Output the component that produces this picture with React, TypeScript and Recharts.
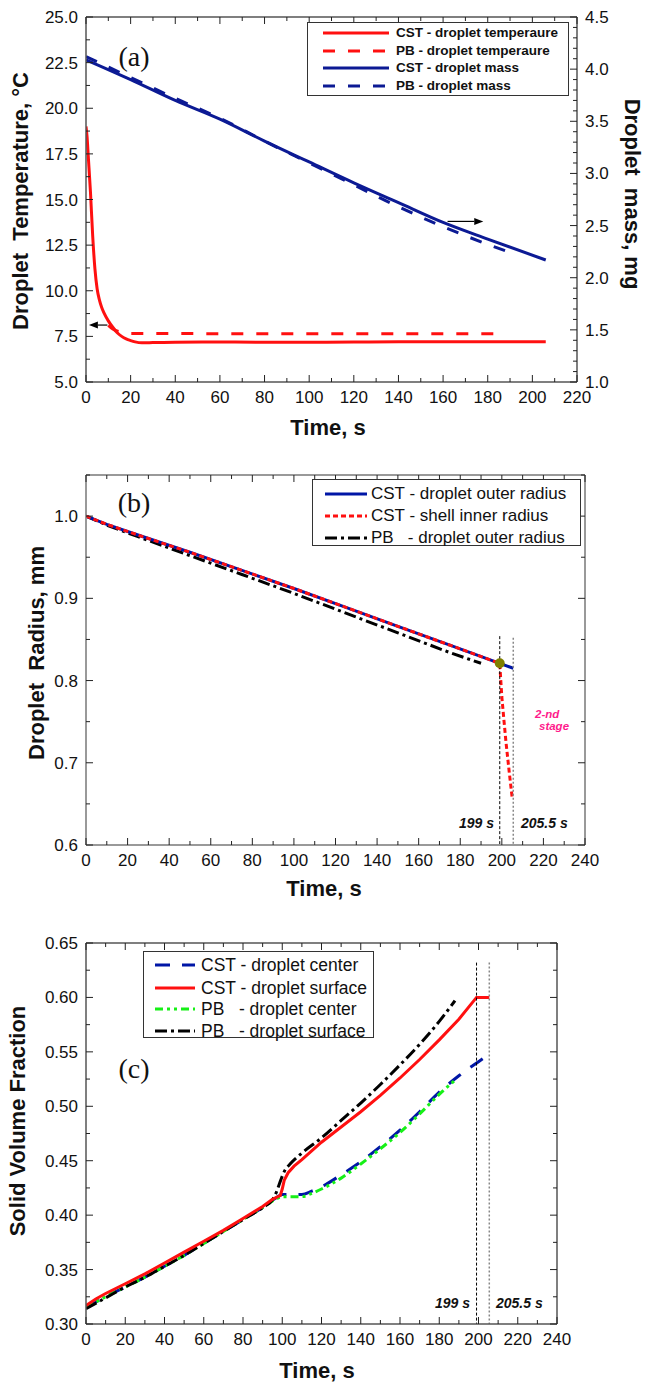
import React from "react";
import { LineChart, Line, XAxis, YAxis, ReferenceLine, ReferenceDot } from "recharts";

// ---------- panel (a): droplet temperature / mass ----------
const tempCstT = [0, 0.5, 1, 2, 3, 4, 5, 6, 7, 8, 10, 12, 14, 16, 18, 20, 22, 25, 30, 40, 60, 80, 100, 120, 140, 160, 180, 200, 206];
const tempCstV = [19.0, 18.4, 17.4, 15.4, 13.0, 11.2, 10.1, 9.5, 9.1, 8.8, 8.35, 8.0, 7.7, 7.5, 7.36, 7.27, 7.2, 7.15, 7.16, 7.18, 7.19, 7.18, 7.18, 7.19, 7.2, 7.2, 7.2, 7.2, 7.2];
const tempPbT = [10, 12, 15, 20, 60, 120, 188];
const tempPbV = [8.1, 7.9, 7.75, 7.66, 7.65, 7.65, 7.65];
const massCstT = [0, 20, 40, 60, 80, 100, 120, 140, 160, 180, 206];
const massCstV = [4.09, 3.9, 3.7, 3.52, 3.31, 3.11, 2.91, 2.72, 2.53, 2.37, 2.17];
const massPbT = [0, 20, 40, 60, 80, 100, 120, 140, 160, 180, 189];
const massPbV = [4.12, 3.92, 3.72, 3.53, 3.31, 3.1, 2.89, 2.68, 2.49, 2.32, 2.25];
const legendA = ["CST - droplet temperaure", "PB - droplet temperaure", "CST - droplet mass", "PB - droplet mass"];

// ---------- panel (b): droplet radius ----------
const radCstT = [0, 10, 25, 50, 75, 100, 125, 150, 175, 199, 205.5];
const radCstV = [1.0, 0.99, 0.977, 0.956, 0.934, 0.912, 0.889, 0.866, 0.843, 0.821, 0.815];
const shellT = [0, 10, 25, 50, 75, 100, 125, 150, 175, 199, 199.5, 200, 201, 202, 203.5, 205];
const shellV = [1.0, 0.99, 0.977, 0.956, 0.934, 0.912, 0.889, 0.866, 0.843, 0.821, 0.8, 0.78, 0.752, 0.725, 0.69, 0.657];
const radPbT = [0, 10, 25, 50, 75, 100, 125, 150, 175, 190];
const radPbV = [1.0, 0.989, 0.975, 0.952, 0.929, 0.906, 0.882, 0.858, 0.834, 0.821];
const legendB = ["CST - droplet outer radius", "CST - shell inner radius", "PB   - droplet outer radius"];

// ---------- panel (c): solid volume fraction ----------
const cenCstT = [0, 10, 20, 30, 40, 50, 60, 70, 80, 90, 97, 100, 105, 110, 115, 120, 130, 140, 150, 160, 170, 180, 190, 200, 204];
const cenCstV = [0.315, 0.325, 0.334, 0.343, 0.353, 0.363, 0.374, 0.385, 0.396, 0.407, 0.416, 0.419, 0.419, 0.419, 0.422, 0.426, 0.437, 0.449, 0.463, 0.478, 0.495, 0.513, 0.528, 0.541, 0.546];
const surCstT = [0, 5, 10, 20, 30, 40, 50, 60, 70, 80, 90, 95, 99, 100, 101, 103, 106, 110, 120, 130, 140, 150, 160, 170, 180, 190, 199, 205.5];
const surCstV = [0.317, 0.323, 0.328, 0.337, 0.346, 0.356, 0.366, 0.376, 0.386, 0.397, 0.408, 0.4145, 0.418, 0.424, 0.432, 0.439, 0.445, 0.451, 0.467, 0.481, 0.495, 0.51, 0.526, 0.543, 0.561, 0.58, 0.6, 0.6];
const cenPbT = [0, 10, 20, 30, 40, 50, 60, 70, 80, 90, 97, 100, 105, 110, 115, 120, 130, 140, 150, 160, 170, 180, 188];
const cenPbV = [0.315, 0.325, 0.334, 0.343, 0.353, 0.363, 0.374, 0.385, 0.396, 0.407, 0.415, 0.417, 0.417, 0.417, 0.42, 0.424, 0.434, 0.447, 0.461, 0.476, 0.493, 0.511, 0.524];
const surPbT = [0, 10, 20, 30, 40, 50, 60, 70, 80, 90, 95, 97, 99, 101, 104, 110, 120, 130, 140, 150, 160, 170, 180, 188];
const surPbV = [0.314, 0.324, 0.334, 0.343, 0.353, 0.363, 0.374, 0.385, 0.396, 0.407, 0.414, 0.421, 0.431, 0.44, 0.447, 0.457, 0.471, 0.487, 0.503, 0.52, 0.538, 0.557, 0.578, 0.597];
const legendC = ["CST - droplet center", "CST - droplet surface", "PB   - droplet center", "PB   - droplet surface"];

const FONT = '"Liberation Sans", Arial, Helvetica, sans-serif';
const RED = "#ff1010";
const NAVY = "#0c1a94";
const BLUE = "#0016a6";
const GREEN = "#16f016";
const FRAME = "#555";

function range(a: number, b: number, step: number) {
  const out: number[] = [];
  const n = Math.round((b - a) / step);
  for (let i = 0; i <= n; i++) out.push(Math.round((a + i * step) * 10000) / 10000);
  return out;
}

const zip = (t: number[], v: number[]) => t.map((x, i) => ({ t: x, v: v[i] }));

type Side = "bottom" | "top" | "left" | "right";

function axisTick(side: Side, major: number, fmt?: (v: number) => string) {
  return (props: any) => {
    const { x, y, payload } = props;
    const v = Number(payload.value);
    const isMajor = Math.abs(v / major - Math.round(v / major)) < 1e-6;
    const len = isMajor ? 7 : 4;
    const lbl = fmt && isMajor ? fmt(v) : null;
    const txt = { fontFamily: FONT, fontSize: 17, fill: "#111" };
    if (side === "bottom")
      return (
        <g>
          <line x1={x} y1={y} x2={x} y2={y - len} stroke="#222" />
          {lbl && <text x={x} y={y + 21} textAnchor="middle" {...txt}>{lbl}</text>}
        </g>
      );
    if (side === "top") return <line x1={x} y1={y} x2={x} y2={y + len} stroke="#222" />;
    if (side === "left")
      return (
        <g>
          <line x1={x} y1={y} x2={x + len} y2={y} stroke="#222" />
          {lbl && <text x={x - 8} y={y + 6} textAnchor="end" {...txt}>{lbl}</text>}
        </g>
      );
    return (
      <g>
        <line x1={x} y1={y} x2={x - len} y2={y} stroke="#222" />
        {lbl && <text x={x + 8} y={y + 6} textAnchor="start" {...txt}>{lbl}</text>}
      </g>
    );
  };
}

function Arrow(props: any) {
  const { x1, y1, x2, y2 } = props;
  const a = Math.atan2(y2 - y1, x2 - x1);
  const bx = x2 - 9 * Math.cos(a);
  const by = y2 - 9 * Math.sin(a);
  const px = -Math.sin(a) * 3.5;
  const py = Math.cos(a) * 3.5;
  return (
    <g>
      <line x1={x1} y1={y1} x2={bx} y2={by} stroke="#000" strokeWidth={1.2} />
      <polygon points={`${x2},${y2} ${bx + px},${by + py} ${bx - px},${by - py}`} fill="#000" />
    </g>
  );
}

type Row = { name: string; color: string; dash?: string };

function BoxLegend(p: { x: number; y: number; w: number; h: number; rows: Row[]; rowY: number[]; s0: number; s1: number; tx: number; fs: number; bold?: boolean }) {
  return (
    <div style={{ position: "absolute", left: p.x, top: p.y, width: p.w, height: p.h, border: "1px solid #333", background: "#fff", boxSizing: "border-box" }}>
      {p.rows.map((r, i) => (
        <div key={r.name} style={{ position: "absolute", left: 0, top: p.rowY[i] - p.y - 12, height: 24, width: "100%" }}>
          <svg style={{ position: "absolute", left: p.s0 - p.x, top: 0 }} width={p.s1 - p.s0} height={24}>
            <line x1={0} y1={12} x2={p.s1 - p.s0} y2={12} stroke={r.color} strokeWidth={3} strokeDasharray={r.dash} />
          </svg>
          <span style={{ position: "absolute", left: p.tx - p.x, top: 0, lineHeight: "24px", fontSize: p.fs, fontWeight: p.bold ? 700 : 400, whiteSpace: "pre", fontFamily: FONT, color: "#111" }}>
            {r.name}
          </span>
        </div>
      ))}
    </div>
  );
}

const lineBase = { type: "monotone" as const, dataKey: "v", dot: false, isAnimationActive: false, strokeWidth: 3 };
const axisLine = { stroke: FRAME, strokeWidth: 1.5 };
const axisCommon = { type: "number" as const, interval: 0 as const, tickSize: 0, tickMargin: 0, tickLine: false, axisLine, allowDataOverflow: true };

export default function App() {
  const xTicks220 = range(0, 220, 10);
  const xTicks240 = range(0, 240, 10);
  const f1 = (v: number) => v.toFixed(1);
  const f2 = (v: number) => v.toFixed(2);
  const f0 = (v: number) => String(v);
  const titleStyle = { fontFamily: FONT, fontSize: 22, fontWeight: 700, fill: "#111", whiteSpace: "pre" as const };
  const serif = { fontFamily: '"Liberation Serif", "Times New Roman", serif', fontSize: 28, fill: "#111" };
  const stamp = { fontFamily: FONT, fontSize: 14, fontWeight: 700, fontStyle: "italic" as const, fill: "#111" };
  const grayAxis = { stroke: "#777", strokeWidth: 1.5 };

  return (
    <div style={{ position: "absolute", left: 0, top: 0, width: 646, height: 1383, background: "#fff" }}>
      {/* (a) */}
      <div style={{ position: "absolute", left: 0, top: 0 }}>
        <LineChart width={646} height={460} margin={{ top: 16, right: 0, bottom: 0, left: 0 }}>
          <XAxis xAxisId="x" dataKey="t" domain={[0, 220]} ticks={xTicks220} height={78} tick={axisTick("bottom", 20, f0)} {...axisCommon} />
          <XAxis xAxisId="xt" orientation="top" dataKey="t" domain={[0, 220]} ticks={xTicks220} height={1} tick={axisTick("top", 20)} {...axisCommon} />
          <YAxis yAxisId="T" domain={[5, 25]} ticks={range(5, 25, 1.25)} width={86} tick={axisTick("left", 2.5, f1)} {...axisCommon} />
          <YAxis yAxisId="m" orientation="right" domain={[1, 4.5]} ticks={range(1, 4.5, 0.1)} width={69} tick={axisTick("right", 0.5, f1)} {...axisCommon} />
          <Line {...lineBase} xAxisId="x" yAxisId="m" data={zip(massPbT, massPbV)} stroke={NAVY} strokeDasharray="12 13" />
          <Line {...lineBase} xAxisId="x" yAxisId="m" data={zip(massCstT, massCstV)} stroke={NAVY} />
          <Line {...lineBase} xAxisId="x" yAxisId="T" data={zip(tempPbT, tempPbV)} stroke={RED} strokeDasharray="12 13" />
          <Line {...lineBase} xAxisId="x" yAxisId="T" data={zip(tempCstT, tempCstV)} stroke={RED} />
          <ReferenceLine xAxisId="x" yAxisId="T" segment={[{ x: 9.6, y: 8.12 }, { x: 1.3, y: 8.12 }]} shape={Arrow} />
          <ReferenceLine xAxisId="x" yAxisId="m" segment={[{ x: 162, y: 2.54 }, { x: 178, y: 2.54 }]} shape={Arrow} />
        </LineChart>
      </div>
      <BoxLegend
        x={307} y={22} w={262} h={74} rowY={[32, 50, 67, 85]} s0={322} s1={388} tx={395} fs={13.5} bold
        rows={[
          { name: legendA[0], color: RED },
          { name: legendA[1], color: RED, dash: "12 13" },
          { name: legendA[2], color: NAVY },
          { name: legendA[3], color: NAVY, dash: "12 13" },
        ]}
      />

      {/* (b) */}
      <div style={{ position: "absolute", left: 0, top: 460 }}>
        <LineChart width={646} height={430} margin={{ top: 14, right: 0, bottom: 0, left: 0 }}>
          <XAxis xAxisId="x" dataKey="t" domain={[0, 240]} ticks={xTicks240} height={45} tick={axisTick("bottom", 20, f0)} {...axisCommon} axisLine={grayAxis} />
          <XAxis xAxisId="xt" orientation="top" dataKey="t" domain={[0, 240]} ticks={xTicks240} height={1} tick={axisTick("top", 20)} {...axisCommon} axisLine={grayAxis} />
          <YAxis yAxisId="r" domain={[0.6, 1.05]} ticks={range(0.6, 1.05, 0.05)} width={86} tick={axisTick("left", 0.1, f1)} {...axisCommon} axisLine={grayAxis} />
          <YAxis yAxisId="rr" orientation="right" domain={[0.6, 1.05]} ticks={range(0.6, 1.05, 0.05)} width={61} tick={axisTick("right", 0.1)} {...axisCommon} axisLine={grayAxis} />
          <Line {...lineBase} type="linear" xAxisId="x" yAxisId="r" data={zip(radPbT, radPbV)} stroke="#000" strokeDasharray="12 4 3 4" />
          <Line {...lineBase} type="linear" xAxisId="x" yAxisId="r" data={zip(radCstT, radCstV)} stroke={BLUE} />
          <Line {...lineBase} type="linear" xAxisId="x" yAxisId="r" data={zip(shellT, shellV)} stroke={RED} strokeDasharray="5 3" />
          <ReferenceLine xAxisId="x" yAxisId="r" segment={[{ x: 199, y: 0.854 }, { x: 199, y: 0.6 }]} stroke="#000" strokeWidth={1} strokeDasharray="3 2" />
          <ReferenceLine xAxisId="x" yAxisId="r" segment={[{ x: 205.5, y: 0.852 }, { x: 205.5, y: 0.6 }]} stroke="#888" strokeWidth={1.5} strokeDasharray="2 2" />
          <ReferenceDot xAxisId="x" yAxisId="r" x={199} y={0.821} r={5} fill="#7f7f00" stroke="none" />
        </LineChart>
      </div>
      <BoxLegend
        x={312} y={479} w={269} h={67} rowY={[493, 515, 537]} s0={324} s1={366} tx={370} fs={17}
        rows={[
          { name: legendB[0], color: BLUE },
          { name: legendB[1], color: RED, dash: "5 3" },
          { name: legendB[2], color: "#000", dash: "12 4 3 4" },
        ]}
      />

      {/* (c) */}
      <div style={{ position: "absolute", left: 0, top: 890 }}>
        <LineChart width={646} height={493} margin={{ top: 52, right: 0, bottom: 0, left: 0 }}>
          <XAxis xAxisId="x" dataKey="t" domain={[0, 240]} ticks={xTicks240} height={59} tick={axisTick("bottom", 20, f0)} {...axisCommon} />
          <XAxis xAxisId="xt" orientation="top" dataKey="t" domain={[0, 240]} ticks={xTicks240} height={1} tick={axisTick("top", 20)} {...axisCommon} />
          <YAxis yAxisId="s" domain={[0.3, 0.65]} ticks={range(0.3, 0.65, 0.025)} width={86} tick={axisTick("left", 0.05, f2)} {...axisCommon} />
          <YAxis yAxisId="sr" orientation="right" domain={[0.3, 0.65]} ticks={range(0.3, 0.65, 0.025)} width={89} tick={axisTick("right", 0.05)} {...axisCommon} />
          <Line {...lineBase} xAxisId="x" yAxisId="s" data={zip(cenCstT, cenCstV)} stroke={BLUE} strokeDasharray="15 12" />
          <Line {...lineBase} xAxisId="x" yAxisId="s" data={zip(cenPbT, cenPbV)} stroke={GREEN} strokeDasharray="8 4 3 4 3 4" />
          <Line {...lineBase} xAxisId="x" yAxisId="s" data={zip(surPbT, surPbV)} stroke="#000" strokeDasharray="12 4 3 4" />
          <Line {...lineBase} type="linear" xAxisId="x" yAxisId="s" data={zip(surCstT, surCstV)} stroke={RED} />
          <ReferenceLine xAxisId="x" yAxisId="s" segment={[{ x: 199, y: 0.632 }, { x: 199, y: 0.3 }]} stroke="#000" strokeWidth={1} strokeDasharray="3 2" />
          <ReferenceLine xAxisId="x" yAxisId="s" segment={[{ x: 205.5, y: 0.632 }, { x: 205.5, y: 0.3 }]} stroke="#888" strokeWidth={1.5} strokeDasharray="2 2" />
        </LineChart>
      </div>
      <BoxLegend
        x={143} y={951} w={231} h={87} rowY={[964, 987, 1008, 1030]} s0={154} s1={194} tx={200} fs={17.5}
        rows={[
          { name: legendC[0], color: BLUE, dash: "15 12" },
          { name: legendC[1], color: RED },
          { name: legendC[2], color: GREEN, dash: "8 4 3 4 3 4" },
          { name: legendC[3], color: "#000", dash: "12 4 3 4" },
        ]}
      />

      {/* titles and annotations */}
      <svg width={646} height={1383} style={{ position: "absolute", left: 0, top: 0, pointerEvents: "none" }}>
        <text x={134} y={66} textAnchor="middle" {...serif}>(a)</text>
        <text x={134} y={512} textAnchor="middle" {...serif}>(b)</text>
        <text x={134} y={1078} textAnchor="middle" {...serif}>(c)</text>

        <text transform="translate(20,201) rotate(-90)" textAnchor="middle" dominantBaseline="central" style={titleStyle}>Droplet  Temperature, °C</text>
        <text transform="translate(632,194) rotate(90)" textAnchor="middle" dominantBaseline="central" style={titleStyle}>Droplet  mass, mg</text>
        <text x={328} y={435} textAnchor="middle" style={titleStyle}>Time, s</text>

        <text transform="translate(36,653) rotate(-90)" textAnchor="middle" dominantBaseline="central" style={titleStyle}>Droplet  Radius, mm</text>
        <text x={324} y={896} textAnchor="middle" style={titleStyle}>Time, s</text>

        <text transform="translate(17,1121) rotate(-90)" textAnchor="middle" dominantBaseline="central" style={titleStyle}>Solid Volume Fraction</text>
        <text x={317} y={1378} textAnchor="middle" style={titleStyle}>Time, s</text>

        <text x={494} y={828} textAnchor="end" {...stamp}>199 s</text>
        <text x={521} y={828} textAnchor="start" {...stamp}>205.5 s</text>
        <text x={470} y={1308} textAnchor="end" {...stamp}>199 s</text>
        <text x={496} y={1308} textAnchor="start" {...stamp}>205.5 s</text>

        <text x={535} y={718} fontFamily={FONT} fontSize={11.5} fontWeight={700} fontStyle="italic" fill="#ff1a8c">2-nd</text>
        <text x={539} y={730} fontFamily={FONT} fontSize={11.5} fontWeight={700} fontStyle="italic" fill="#ff1a8c">stage</text>
      </svg>
    </div>
  );
}
